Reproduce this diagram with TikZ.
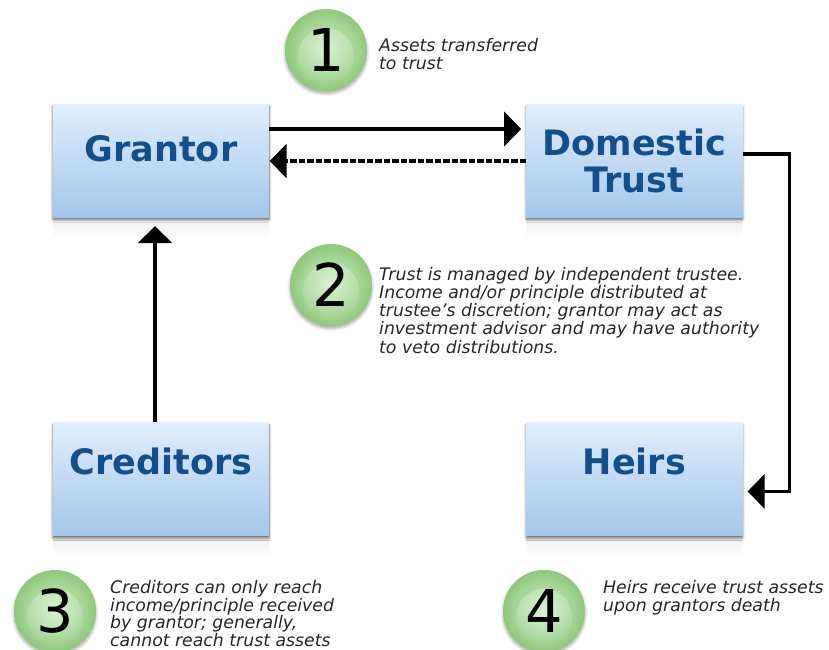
\documentclass[tikz,border=0pt]{standalone}
\usepackage{fontspec}
\setmainfont{DejaVu Sans}
\usetikzlibrary{positioning, arrows.meta, shadows.blur, fadings}

\definecolor{titleblue}{HTML}{134F8C}
\definecolor{boxtop}{HTML}{E0EEFD}
\definecolor{boxbottom}{HTML}{A2C7EC}
\definecolor{ballin}{HTML}{D2F0CB}
\definecolor{ballout}{HTML}{8FC97C}

\tikzset{
    party/.style={draw=none, minimum width=216pt, minimum height=113pt, align=center,
        top color=boxtop, bottom color=boxbottom, text=titleblue,
        font=\fontsize{35}{37}\selectfont\bfseries,
        blur shadow={shadow xshift=0pt, shadow yshift=-2.5pt, shadow blur steps=6,
            shadow blur radius=2.5pt, shadow opacity=65}},
    ball/.style={circle, draw=none, minimum size=82pt, inner sep=0pt,
        inner color=ballin, outer color=ballout,
        font=\fontsize{59}{59}\selectfont,
        blur shadow={shadow xshift=0pt, shadow yshift=-2.5pt, shadow blur steps=6,
            shadow blur radius=3pt, shadow opacity=35},
        path picture={\fill[white, opacity=.35, path fading=south]
            ([yshift=-6pt]path picture bounding box.center) circle (28pt);}},
    note/.style={anchor=north west, inner sep=0pt, align=left,
        font=\fontsize{17.3}{18.2}\selectfont\itshape, text=black!85},
    link/.style={line width=3.6pt, -{Triangle[length=17pt, width=34pt]}, shorten >=5pt}
}

\begin{document}
\begin{tikzpicture}[x=1pt, y=-1pt, node distance=257pt and 205pt]

    \useasboundingbox (0,0) rectangle (829,649);

    % Faint reflections under the boxes
    \foreach \x/\y in {53/217, 526/217, 53/535, 526/535} {
        \fill[top color=black!6, bottom color=white, draw=none]
            (\x,\y+3) rectangle (\x+216,\y+21);
    }

    % Parties
    \node[party, text depth=24pt] (grantor) at (161,160.5) {Grantor};
    \node[party, right=of grantor, xshift=52pt] (trust) {Domestic\\Trust};
    \node[party, below=205pt of grantor, text depth=36pt] (creditors) {Creditors};
    \node[party, below=205pt of trust, text depth=36pt] (heirs) {Heirs};

    % Steps
    \node[ball] (one) at (326,50) {1};
    \node[ball] (two) at (331,285) {2};
    \node[ball] (three) at (55,611) {3};
    \node[ball] (four) at (544,611) {4};

    % Notes
    \node[note] (noteone) at (379,38) {Assets transferred\\to trust};
    \node[note] (notetwo) at (379,267) {Trust is managed by independent trustee.\\
        Income and/or principle distributed at\\
        trustee’s discretion; grantor may act as\\
        investment advisor and may have authority\\
        to veto distributions.};
    \node[note, font=\fontsize{17.3}{17.7}\selectfont\itshape] (notethree) at (110,580) {Creditors can only reach\\
        income/principle received\\
        by grantor; generally,\\
        cannot reach trust assets};
    \node[note] (notefour) at (603,580) {Heirs receive trust assets\\upon grantors death};

    % Connectors
    \draw[link] ([yshift=31.5pt]grantor.east) -- ([yshift=31.5pt]trust.west);
    \draw[link, dash pattern=on 6.5pt off 2pt, shorten >=0.5pt] ([yshift=-0.5pt]trust.west) -- ([yshift=-0.5pt]grantor.east);
    \draw[link, shorten >=9pt] ([xshift=-6pt]creditors.north) -- ([xshift=-6pt]grantor.south);
    \draw[link] ([yshift=6.5pt]trust.east) -- ++(47,0) |- ([yshift=-12.5pt]heirs.east);

\end{tikzpicture}
\end{document}
